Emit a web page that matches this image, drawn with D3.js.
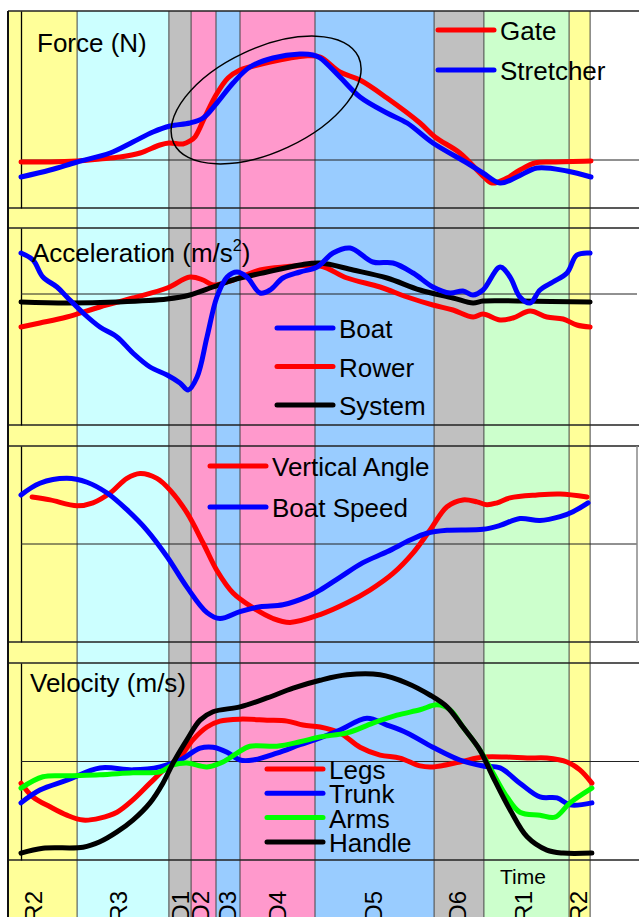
<!DOCTYPE html>
<html>
<head>
<meta charset="utf-8">
<script src="https://cdn.jsdelivr.net/npm/d3@7"></script>
<style>
  body { margin: 0; background: #fff; }
  text { font-family: "Liberation Sans", Arial, sans-serif; fill: #000; }
</style>
</head>
<body>
<svg id="chart" width="639" height="917"></svg>
<script>
// stroke phases (time in s)
const phases = ['R2', 'R3', 'D1', 'D2', 'D3', 'D4', 'D5', 'D6', 'R1', 'R2'];
const phaseEdges = [-0.043, 0.187, 0.493, 0.567, 0.650, 0.730, 0.980, 1.377, 1.543, 1.827, 1.897];
const phaseColors = ['#ffff99', '#ccffff', '#c0c0c0', '#ff99cc', '#99ccff', '#ff99cc', '#99ccff', '#c0c0c0', '#ccffcc', '#ffff99'];
const phaseLabelAt = [0.04, 0.323, 0.53, 0.597, 0.687, 0.853, 1.173, 1.453, 1.673, 1.857];

// force (N)
const gateForce = [[0, -20], [0.097, -20], [0.187, -10], [0.263, 10], [0.33, 30], [0.397, 70], [0.463, 150], [0.493, 170],
  [0.54, 160], [0.563, 190], [0.58, 230], [0.613, 430], [0.65, 650], [0.69, 820], [0.73, 900], [0.763, 930], [0.83, 980],
  [0.897, 1020], [0.947, 1040], [0.997, 1030], [1.063, 880], [1.13, 800], [1.22, 620], [1.33, 370], [1.38, 230],
  [1.463, 70], [1.54, -160], [1.57, -230], [1.62, -180], [1.663, -100], [1.713, -30], [1.773, -20], [1.9, -10]];
const stretcherForce = [[0, -170], [0.097, -100], [0.187, -20], [0.297, 70], [0.373, 180], [0.44, 280], [0.497, 340],
  [0.563, 370], [0.607, 420], [0.653, 570], [0.707, 770], [0.763, 930], [0.84, 1020], [0.93, 1060], [0.973, 1050],
  [0.997, 1020], [1.063, 830], [1.13, 630], [1.22, 470], [1.287, 370], [1.373, 170], [1.487, -30], [1.54, -130],
  [1.597, -230], [1.653, -170], [1.72, -80], [1.82, -110], [1.9, -170]];

// acceleration (m/s2)
const boatAcc = [[0, 8.2], [0.04, 6.8], [0.073, 3.4], [0.12, 1.4], [0.153, -0.6], [0.207, -3.8], [0.263, -6.6], [0.32, -8.6],
  [0.373, -11.8], [0.43, -14.6], [0.487, -16.2], [0.53, -17.8], [0.557, -19.2], [0.587, -16.6], [0.62, -8.6], [0.653, -0.6],
  [0.687, 3.4], [0.72, 4.4], [0.753, 3.4], [0.797, 0.2], [0.83, 0.8], [0.873, 3.2], [0.93, 4.4], [0.987, 5.4], [1.04, 8.2],
  [1.097, 9.2], [1.173, 6.4], [1.24, 6.2], [1.307, 4.2], [1.373, 1.4], [1.43, 0.2], [1.473, 0.6], [1.507, -0.2], [1.54, 0.8],
  [1.597, 5.4], [1.63, 3.4], [1.663, -0.6], [1.697, -1.8], [1.73, 0.8], [1.773, 2.4], [1.82, 4.2], [1.853, 7.8], [1.897, 8.2]];
const rowerAcc = [[0, -6.6], [0.063, -5.8], [0.153, -4.6], [0.263, -2.6], [0.373, -0.8], [0.487, 1.2], [0.563, 3.4],
  [0.607, 2.8], [0.64, 1.8], [0.707, 2.8], [0.797, 4.8], [0.873, 5.4], [0.997, 5.6], [1.087, 3.2], [1.197, 1.4],
  [1.287, -0.6], [1.373, -2.2], [1.44, -3.2], [1.507, -4.6], [1.54, -4.0], [1.597, -5.2], [1.64, -4.8], [1.697, -3.4],
  [1.753, -4.6], [1.807, -5.0], [1.853, -6.2], [1.897, -6.6]];
const systemAcc = [[0, -1.6], [0.153, -1.8], [0.32, -1.6], [0.487, -1.0], [0.563, -0.2], [0.64, 1.4], [0.707, 2.8],
  [0.82, 4.4], [0.93, 5.8], [0.997, 6.2], [1.107, 4.8], [1.22, 3.2], [1.33, 0.8], [1.44, -0.8], [1.507, -1.8],
  [1.54, -1.4], [1.663, -1.4], [1.897, -1.6]];

// vertical angle (deg) and boat speed (m/s)
const vertAngle = [[0.037, 4.8], [0.097, 4.5], [0.187, 3.9], [0.24, 4.2], [0.297, 5.2], [0.353, 6.7], [0.397, 7.2],
  [0.453, 6.7], [0.497, 5.5], [0.553, 3.2], [0.607, 0.1], [0.653, -2.7], [0.707, -5.0], [0.773, -6.5], [0.84, -7.6],
  [0.897, -8.0], [0.997, -7.2], [1.087, -6.0], [1.163, -4.7], [1.24, -3.0], [1.307, -0.9], [1.363, 1.4], [1.42, 3.8],
  [1.473, 4.5], [1.52, 4.3], [1.553, 4.0], [1.587, 4.2], [1.63, 4.7], [1.72, 5.0], [1.797, 5.1], [1.887, 4.8]];
const boatSpeed = [[0, 5.0], [0.063, 5.12], [0.153, 5.17], [0.22, 5.13], [0.287, 5.02], [0.353, 4.85], [0.42, 4.64],
  [0.487, 4.37], [0.553, 4.06], [0.62, 3.80], [0.663, 3.74], [0.73, 3.81], [0.797, 3.86], [0.873, 3.88], [0.953, 3.96],
  [0.997, 4.03], [1.063, 4.16], [1.14, 4.31], [1.22, 4.42], [1.297, 4.54], [1.353, 4.61], [1.42, 4.64], [1.54, 4.65],
  [1.597, 4.69], [1.663, 4.76], [1.73, 4.74], [1.797, 4.78], [1.84, 4.83], [1.89, 4.92]];

// velocity (m/s)
const legsVel = [[0, -0.44], [0.04, -0.72], [0.097, -0.92], [0.153, -1.09], [0.207, -1.19], [0.263, -1.15], [0.32, -1.03],
  [0.373, -0.78], [0.43, -0.44], [0.487, -0.11], [0.53, 0.09], [0.573, 0.44], [0.62, 0.70], [0.663, 0.82], [0.73, 0.86],
  [0.82, 0.84], [0.887, 0.82], [0.94, 0.74], [0.997, 0.70], [1.063, 0.58], [1.13, 0.29], [1.197, 0.13], [1.263, 0.07],
  [1.33, -0.09], [1.373, -0.11], [1.463, -0.01], [1.54, 0.09], [1.62, 0.09], [1.687, 0.07], [1.753, 0.07], [1.82, -0.01],
  [1.863, -0.17], [1.903, -0.44]];
const trunkVel = [[0, -0.84], [0.063, -0.58], [0.153, -0.38], [0.263, -0.13], [0.373, -0.17], [0.463, -0.11], [0.53, 0.03],
  [0.597, 0.27], [0.64, 0.29], [0.687, 0.19], [0.73, 0.03], [0.773, 0.03], [0.853, 0.17], [0.93, 0.34], [0.997, 0.48],
  [1.063, 0.64], [1.153, 0.88], [1.22, 0.74], [1.287, 0.58], [1.373, 0.29], [1.463, 0.03], [1.54, -0.09], [1.597, -0.13],
  [1.663, -0.44], [1.73, -0.72], [1.787, -0.74], [1.83, -0.88], [1.903, -0.84]];
const armsVel = [[0, -0.54], [0.073, -0.31], [0.153, -0.29], [0.263, -0.27], [0.373, -0.23], [0.463, -0.21], [0.507, -0.07],
  [0.553, -0.03], [0.62, -0.11], [0.673, -0.01], [0.72, 0.17], [0.763, 0.31], [0.853, 0.31], [0.93, 0.40], [0.997, 0.50],
  [1.087, 0.58], [1.173, 0.78], [1.253, 0.94], [1.33, 1.05], [1.387, 1.15], [1.43, 1.05], [1.473, 0.70], [1.53, 0.23],
  [1.573, -0.23], [1.62, -0.72], [1.663, -1.03], [1.73, -1.09], [1.78, -1.13], [1.83, -0.84], [1.903, -0.54]];
const handleVel = [[0, -1.86], [0.073, -1.76], [0.207, -1.74], [0.263, -1.63], [0.32, -1.43], [0.373, -1.19], [0.43, -0.84],
  [0.473, -0.44], [0.507, -0.03], [0.553, 0.44], [0.597, 0.84], [0.64, 1.01], [0.73, 1.11], [0.82, 1.29], [0.907, 1.49],
  [0.997, 1.65], [1.087, 1.76], [1.197, 1.76], [1.287, 1.59], [1.363, 1.35], [1.42, 1.11], [1.473, 0.70], [1.53, 0.23],
  [1.573, -0.31], [1.63, -0.98], [1.687, -1.53], [1.753, -1.80], [1.807, -1.86], [1.903, -1.86]];

const W = 639, H = 917, frameLeft = 8, frameTop = 11;
const svg = d3.select('#chart');
const x = d3.scaleLinear().domain([0, 1.9]).range([21, 591]);

const forceY = d3.scaleLinear().domain([-480, 1490]).range([208, 11]);
const accY = d3.scaleLinear().domain([-26.2, 13.2]).range([425, 228]);
const angleY = d3.scaleLinear().domain([-10, 10]).range([642, 446]);
const speedY = d3.scaleLinear().domain([3.5, 5.5]).range([642, 446]);
const velY = d3.scaleLinear().domain([-2, 2]).range([860, 663]);
const panelScales = [forceY, accY, angleY, velY];

// phase bands
svg.append('g').selectAll('rect')
  .data(phases)
  .join('rect')
    .attr('x', (d, i) => x(phaseEdges[i]))
    .attr('y', frameTop)
    .attr('width', (d, i) => x(phaseEdges[i + 1]) - x(phaseEdges[i]))
    .attr('height', H - frameTop)
    .attr('fill', (d, i) => phaseColors[i]);
svg.append('g').selectAll('line')
  .data(phaseEdges.slice(1))
  .join('line')
    .attr('x1', d => x(d)).attr('x2', d => x(d))
    .attr('y1', frameTop).attr('y2', H)
    .attr('stroke', '#444').attr('stroke-width', 1);

// panel frames
panelScales.forEach(y => {
  const [y0, y1] = y.range();
  [y0, y1].forEach(yy => {
    svg.append('line')
      .attr('x1', frameLeft).attr('x2', W).attr('y1', yy).attr('y2', yy)
      .attr('stroke', '#222').attr('stroke-width', 1.5);
  });
  svg.append('g')
    .attr('transform', `translate(${x.range()[0]},0)`)
    .call(d3.axisLeft(y).tickValues([]).tickSizeOuter(0))
    .select('.domain').attr('stroke', '#000').attr('stroke-width', 1.3);
});
panelScales.forEach((y, i) => {
  svg.append('line')
    .attr('x1', x.range()[0]).attr('x2', i === 1 || i === 2 ? 637 : W)
    .attr('y1', y(0)).attr('y2', y(0))
    .attr('stroke', '#222').attr('stroke-width', 1);
});
// right border of third panel
svg.append('line')
  .attr('x1', 637).attr('x2', 637).attr('y1', angleY.range()[1]).attr('y2', angleY.range()[0])
  .attr('stroke', '#888').attr('stroke-width', 1.5);
// outer left border
svg.append('line')
  .attr('x1', frameLeft).attr('x2', frameLeft).attr('y1', frameTop).attr('y2', H)
  .attr('stroke', '#111').attr('stroke-width', 2);

// curves
function drawSeries(data, y, color) {
  svg.append('path')
    .datum(data)
    .attr('fill', 'none')
    .attr('stroke', color)
    .attr('stroke-width', 5)
    .attr('stroke-linejoin', 'round')
    .attr('stroke-linecap', 'round')
    .attr('d', d3.line().x(d => x(d[0])).y(d => y(d[1])).curve(d3.curveCatmullRom.alpha(0.5)));
}
drawSeries(gateForce, forceY, '#ff0000');
drawSeries(stretcherForce, forceY, '#0000ff');
drawSeries(rowerAcc, accY, '#ff0000');
drawSeries(systemAcc, accY, '#000000');
drawSeries(boatAcc, accY, '#0000ff');
drawSeries(vertAngle, angleY, '#ff0000');
drawSeries(boatSpeed, speedY, '#0000ff');
drawSeries(legsVel, velY, '#ff0000');
drawSeries(trunkVel, velY, '#0000ff');
drawSeries(armsVel, velY, '#00ff00');
drawSeries(handleVel, velY, '#000000');

// highlighted area on force
svg.append('ellipse')
  .attr('transform', `translate(${x(0.817)},${forceY(600)}) rotate(-25)`)
  .attr('rx', 102).attr('ry', 52)
  .attr('fill', 'none').attr('stroke', '#000').attr('stroke-width', 1.5);

// legends
function legend(x0, y0, step, items) {
  items.forEach(([name, color], i) => {
    const yy = y0 + i * step;
    svg.append('line')
      .attr('x1', x0).attr('x2', x0 + 56).attr('y1', yy).attr('y2', yy)
      .attr('stroke', color).attr('stroke-width', 5).attr('stroke-linecap', 'round');
    svg.append('text')
      .attr('x', x0 + 62).attr('y', yy + 10)
      .attr('font-size', 26)
      .text(name);
  });
}
legend(438, 30, 40, [['Gate', '#ff0000'], ['Stretcher', '#0000ff']]);
legend(277, 328, 38.5, [['Boat', '#0000ff'], ['Rower', '#ff0000'], ['System', '#000000']]);
legend(210, 466, 41, [['Vertical Angle', '#ff0000'], ['Boat Speed', '#0000ff']]);
legend(267, 769, 24.3, [['Legs', '#ff0000'], ['Trunk', '#0000ff'], ['Arms', '#00ff00'], ['Handle', '#000000']]);

// titles
svg.append('text').attr('x', 37).attr('y', 52).attr('font-size', 26).text('Force (N)');
const acc = svg.append('text').attr('x', 32).attr('y', 262).attr('font-size', 26);
acc.append('tspan').text('Acceleration (m/s');
acc.append('tspan').attr('font-size', 16).attr('dy', -11).text('2');
acc.append('tspan').attr('dy', 11).text(')');
svg.append('text').attr('x', 30).attr('y', 692).attr('font-size', 26).text('Velocity (m/s)');

// phase labels
svg.append('g').selectAll('text')
  .data(phases)
  .join('text')
    .attr('transform', (d, i) => `translate(${x(phaseLabelAt[i])},891) rotate(-90)`)
    .attr('text-anchor', 'end')
    .attr('dy', '0.36em')
    .attr('font-size', 24)
    .text(d => d);
svg.append('text')
  .attr('x', x(1.673)).attr('y', 884)
  .attr('text-anchor', 'middle')
  .attr('font-size', 21)
  .text('Time');
</script>
</body>
</html>
